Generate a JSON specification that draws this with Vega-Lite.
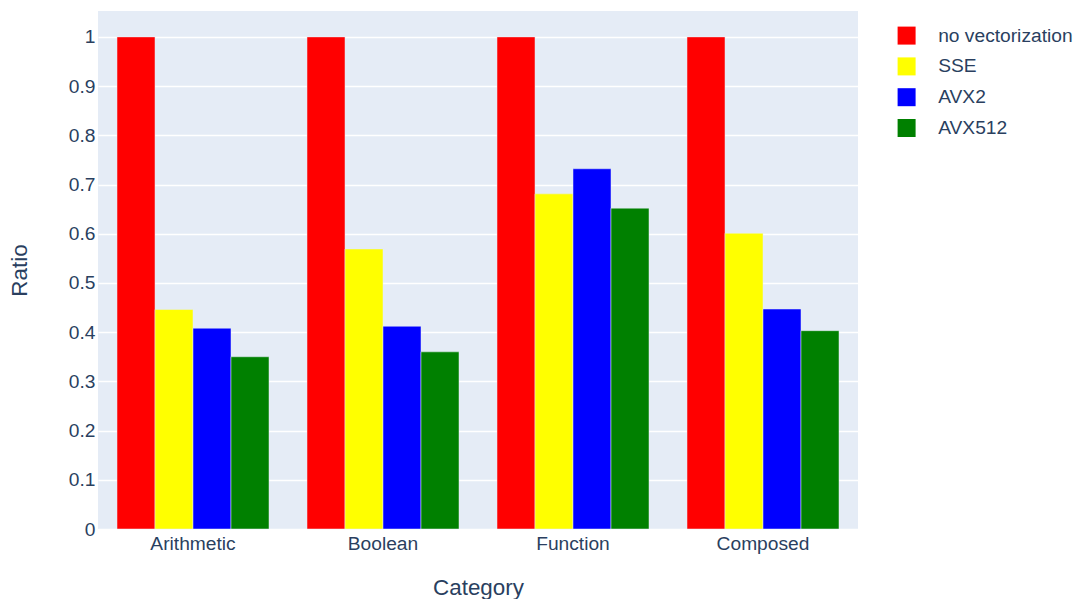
{
  "$schema": "https://vega.github.io/schema/vega-lite/v6.json",
  "width": 760,
  "height": 518,
  "autosize": {"type": "none"},
  "padding": {"left": 98, "top": 11, "right": 223, "bottom": 70},
  "background": "white",
  "config": {
    "font": "Liberation Sans",
    "view": {"fill": "#E5ECF6", "stroke": null},
    "axis": {"labelColor": "#2a3f5f", "titleColor": "#2a3f5f", "labelFont": "Liberation Sans", "titleFont": "Liberation Sans", "titleFontWeight": "normal"}
  },
  "data": {
    "values": [
      {"category": "Arithmetic", "method": "no vectorization", "ratio": 1},
      {"category": "Arithmetic", "method": "SSE", "ratio": 0.446},
      {"category": "Arithmetic", "method": "AVX2", "ratio": 0.408},
      {"category": "Arithmetic", "method": "AVX512", "ratio": 0.350},
      {"category": "Boolean", "method": "no vectorization", "ratio": 1},
      {"category": "Boolean", "method": "SSE", "ratio": 0.569},
      {"category": "Boolean", "method": "AVX2", "ratio": 0.412},
      {"category": "Boolean", "method": "AVX512", "ratio": 0.360},
      {"category": "Function", "method": "no vectorization", "ratio": 1},
      {"category": "Function", "method": "SSE", "ratio": 0.681},
      {"category": "Function", "method": "AVX2", "ratio": 0.732},
      {"category": "Function", "method": "AVX512", "ratio": 0.652},
      {"category": "Composed", "method": "no vectorization", "ratio": 1},
      {"category": "Composed", "method": "SSE", "ratio": 0.601},
      {"category": "Composed", "method": "AVX2", "ratio": 0.447},
      {"category": "Composed", "method": "AVX512", "ratio": 0.403}
    ]
  },
  "mark": {"type": "bar", "stroke": "#E5ECF6", "strokeWidth": 0.5},
  "encoding": {
    "x": {
      "field": "category",
      "type": "nominal",
      "sort": ["Arithmetic", "Boolean", "Function", "Composed"],
      "scale": {"paddingInner": 0.2, "paddingOuter": 0.1},
      "axis": {
        "title": "Category",
        "labelAngle": 0,
        "labelFontSize": 19.2,
        "titleFontSize": 22.4,
        "ticks": false,
        "domain": false,
        "labelPadding": 5,
        "titlePadding": 23
      }
    },
    "xOffset": {
      "field": "method",
      "type": "nominal",
      "sort": ["no vectorization", "SSE", "AVX2", "AVX512"],
      "scale": {"paddingInner": 0, "paddingOuter": 0}
    },
    "y": {
      "field": "ratio",
      "type": "quantitative",
      "scale": {"domain": [0, 1.0526], "nice": false, "zero": true},
      "axis": {
        "title": "Ratio",
        "values": [0, 0.1, 0.2, 0.3, 0.4, 0.5, 0.6, 0.7, 0.8, 0.9, 1],
        "labelExpr": "format(datum.value, '~g')",
        "labelFontSize": 19.2,
        "titleFontSize": 22.4,
        "ticks": false,
        "domain": false,
        "grid": true,
        "gridColor": "white",
        "gridWidth": 1.5,
        "labelPadding": 3,
        "titlePadding": 37
      }
    },
    "color": {
      "field": "method",
      "type": "nominal",
      "sort": ["no vectorization", "SSE", "AVX2", "AVX512"],
      "scale": {
        "domain": ["no vectorization", "SSE", "AVX2", "AVX512"],
        "range": ["red", "yellow", "blue", "green"]
      },
      "legend": {
        "title": null,
        "orient": "none",
        "legendX": 799,
        "legendY": 15,
        "symbolType": "square",
        "symbolSize": 324,
        "symbolStrokeWidth": 0,
        "labelFontSize": 19.2,
        "labelColor": "#2a3f5f",
        "labelFont": "Liberation Sans",
        "labelOffset": 22,
        "rowPadding": 10.8,
        "labelLimit": 300
      }
    }
  }
}
